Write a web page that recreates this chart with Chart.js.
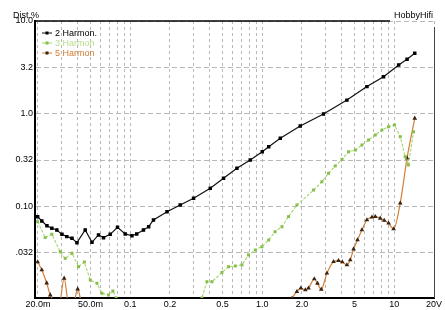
<!DOCTYPE html>
<html>
<head>
<meta charset="utf-8">
<script src="https://cdn.jsdelivr.net/npm/chart.js@4"></script>
<style>
  html, body { margin: 0; padding: 0; background: #fff; }
  canvas { display: block; }
</style>
</head>
<body>
<canvas id="distChart" width="445" height="310"></canvas>
<script>
// values (x in W, y in %)
const h2X = [0.0199, 0.0214, 0.0234, 0.0255, 0.0278, 0.0304, 0.0331, 0.0362, 0.0395, 0.0456, 0.0513, 0.0575, 0.0628, 0.0705, 0.0801, 0.0916, 0.103, 0.112, 0.126, 0.138, 0.150, 0.190, 0.239, 0.302, 0.404, 0.509, 0.643, 0.811, 1.0, 1.12, 1.37, 1.94, 2.91, 4.38, 6.21, 8.30, 10.8, 12.5, 14.3];
const h2Y = [0.0787, 0.0707, 0.0629, 0.059, 0.0566, 0.0508, 0.048, 0.046, 0.0413, 0.0566, 0.0417, 0.05, 0.0468, 0.0508, 0.0605, 0.0513, 0.0491, 0.0513, 0.0566, 0.0614, 0.0725, 0.089, 0.105, 0.124, 0.159, 0.204, 0.261, 0.320, 0.393, 0.445, 0.548, 0.743, 1.0, 1.41, 1.97, 2.52, 3.36, 3.87, 4.49];

const h3X = [0.0199, 0.0227, 0.0255, 0.0295, 0.0322, 0.0362, 0.0406, 0.0449, 0.0498, 0.056, 0.061, 0.0685, 0.074, 0.0783, 0.08, 0.34, 0.349, 0.381, 0.416, 0.495, 0.556, 0.624, 0.702, 0.787, 0.885, 0.995, 1.12, 1.25, 1.41, 1.58, 1.83, 2.45, 2.83, 3.18, 3.57, 4.02, 4.51, 5.07, 5.69, 6.39, 7.18, 8.07, 9.06, 10.05, 11.1, 12.1, 12.8, 14.0];
const h3Y = [0.0695, 0.0468, 0.0508, 0.033, 0.028, 0.0318, 0.0228, 0.0256, 0.0164, 0.0151, 0.0118, 0.0113, 0.0125, 0.0105, 0.009, 0.009, 0.0105, 0.0157, 0.0157, 0.0197, 0.0228, 0.0232, 0.0238, 0.0305, 0.0345, 0.0374, 0.0442, 0.0542, 0.0614, 0.0787, 0.105, 0.152, 0.187, 0.230, 0.276, 0.326, 0.393, 0.410, 0.464, 0.525, 0.594, 0.673, 0.730, 0.762, 0.570, 0.347, 0.283, 0.645];

const h5X = [0.0199, 0.0214, 0.0233, 0.0248, 0.029, 0.0316, 0.0342, 0.037, 0.040, 0.0433, 0.045, 1.6, 1.68, 1.83, 1.96, 2.12, 2.24, 2.48, 2.62, 2.80, 3.09, 3.47, 3.78, 4.04, 4.38, 4.64, 4.92, 5.27, 5.69, 6.21, 6.78, 7.18, 7.83, 8.40, 9.06, 9.89, 11.1, 12.5, 14.3];
const h5Y = [0.0256, 0.021, 0.0152, 0.0113, 0.009, 0.0171, 0.009, 0.009, 0.0131, 0.009, 0.009, 0.009, 0.0104, 0.0123, 0.0134, 0.0128, 0.0134, 0.0168, 0.0151, 0.0130, 0.0194, 0.0258, 0.0265, 0.0256, 0.0238, 0.0269, 0.0353, 0.0442, 0.0566, 0.0725, 0.0775, 0.0787, 0.0756, 0.0716, 0.0668, 0.058, 0.110, 0.336, 0.899];

const seriesNames = ['2 Harmon.', '3 Harmon', '5 Harmon'];

const xTickValues = [0.02, 0.05, 0.1, 0.2, 0.5, 1, 2, 5, 10, 20];
const xTickLabels = ['20.0m', '50.0m', '0.1', '0.2', '0.5', '1.0', '2.0', '5', '10', '20V'];
const xGridValues = [0.02, 0.03, 0.04, 0.05, 0.06, 0.07, 0.08, 0.09, 0.1, 0.2, 0.3, 0.4, 0.5, 0.6, 0.7, 0.8, 0.9, 1, 2, 3, 4, 5, 6, 7, 8, 9, 10, 20];

const yTickValues = [0.032, 0.1, 0.32, 1, 3.2, 10];
const yTickLabels = ['.032', '0.10', '0.32', '1.0', '3.2', '10.0'];

const FONT = "'Liberation Sans', Arial, sans-serif";

function pts(xs, ys) {
  return xs.map((x, i) => ({ x: x, y: ys[i] }));
}

const decor = {
  id: 'decor',
  afterDraw(chart) {
    const ctx = chart.ctx;
    const a = chart.chartArea;
    ctx.save();
    // top rule and right frame
    ctx.strokeStyle = '#000';
    ctx.lineWidth = 1.5;
    ctx.beginPath();
    ctx.moveTo(a.left, a.top);
    ctx.lineTo(390, a.top);
    ctx.stroke();
    ctx.strokeStyle = '#444';
    ctx.lineWidth = 1;
    ctx.beginPath();
    ctx.moveTo(a.right + 0.5, a.top + 6);
    ctx.lineTo(a.right + 0.5, a.bottom);
    ctx.stroke();

    ctx.font = '9px ' + FONT;
    ctx.fillStyle = '#000';
    ctx.textBaseline = 'alphabetic';
    ctx.textAlign = 'left';
    ctx.fillText('Dist %', 13, 18);
    ctx.textAlign = 'right';
    ctx.fillText('HobbyHifi', 433, 18);

    // legend
    const textCols = ['#000', '#b9dd8a', '#cf7a34'];
    ctx.textAlign = 'left';
    ctx.textBaseline = 'middle';
    chart.data.datasets.forEach((ds, i) => {
      const y = 33 + i * 10;
      ctx.strokeStyle = ds.borderColor;
      ctx.lineWidth = 1;
      ctx.beginPath();
      ctx.moveTo(42, y);
      ctx.lineTo(52, y);
      ctx.stroke();
      ctx.fillStyle = ds.pointBackgroundColor;
      ctx.fillRect(45.5, y - 1.5, 3, 3);
      ctx.fillStyle = textCols[i];
      ctx.fillText(ds.label, 55, y + 0.5);
    });
    ctx.restore();
  }
};

new Chart(document.getElementById('distChart'), {
  type: 'line',
  data: {
    datasets: [
      {
        label: seriesNames[0],
        data: pts(h2X, h2Y),
        borderColor: '#111',
        backgroundColor: '#111',
        pointBackgroundColor: '#000',
        pointBorderColor: '#000',
        pointStyle: 'rect',
        pointRadius: 1.6,
        borderWidth: 1.2,
        tension: 0,
        clip: 0
      },
      {
        label: seriesNames[1],
        data: pts(h3X, h3Y),
        borderColor: '#a6d46c',
        backgroundColor: '#a6d46c',
        pointBackgroundColor: '#86bf4a',
        pointBorderColor: '#86bf4a',
        pointStyle: 'rect',
        pointRadius: 1.3,
        borderWidth: 1.1,
        borderDash: [3, 1.5],
        tension: 0,
        clip: 0
      },
      {
        label: seriesNames[2],
        data: pts(h5X, h5Y),
        borderColor: '#d47f38',
        backgroundColor: '#d47f38',
        pointBackgroundColor: '#3a2412',
        pointBorderColor: '#3a2412',
        pointStyle: 'triangle',
        pointRadius: 1.5,
        borderWidth: 1.2,
        cubicInterpolationMode: 'monotone',
        clip: 0
      }
    ]
  },
  options: {
    responsive: false,
    animation: false,
    layout: { padding: { left: 0, right: 11, top: 21, bottom: 0 } },
    plugins: { legend: { display: false }, tooltip: { enabled: false } },
    scales: {
      x: {
        type: 'logarithmic',
        min: 0.019,
        max: 20,
        bounds: 'data',
        afterBuildTicks: s => { s.ticks = xGridValues.map(v => ({ value: v })); },
        afterFit: s => { s.height = 12; },
        ticks: {
          autoSkip: false,
          maxRotation: 0,
          minRotation: 0,
          padding: 1,
          color: '#000',
          font: { family: FONT, size: 9 },
          callback: function (v) {
            const i = xTickValues.findIndex(t => Math.abs(t - v) < t * 1e-6);
            return i < 0 ? '' : xTickLabels[i];
          }
        },
        grid: { color: '#b8b8b8', lineWidth: 1, drawTicks: false },
        border: { color: '#000', width: 2, dash: [3, 3] }
      },
      y: {
        type: 'logarithmic',
        min: 0.0105,
        max: 10,
        bounds: 'data',
        afterBuildTicks: s => { s.ticks = yTickValues.map(v => ({ value: v })); },
        afterFit: s => { s.width = 35; },
        ticks: {
          padding: 2,
          color: '#000',
          font: { family: FONT, size: 9 },
          callback: (v, i) => yTickLabels[i]
        },
        grid: { color: '#b8b8b8', lineWidth: 1, drawTicks: false },
        border: { color: '#000', width: 2, dash: [5, 3] }
      }
    }
  },
  plugins: [decor]
});
</script>
</body>
</html>
